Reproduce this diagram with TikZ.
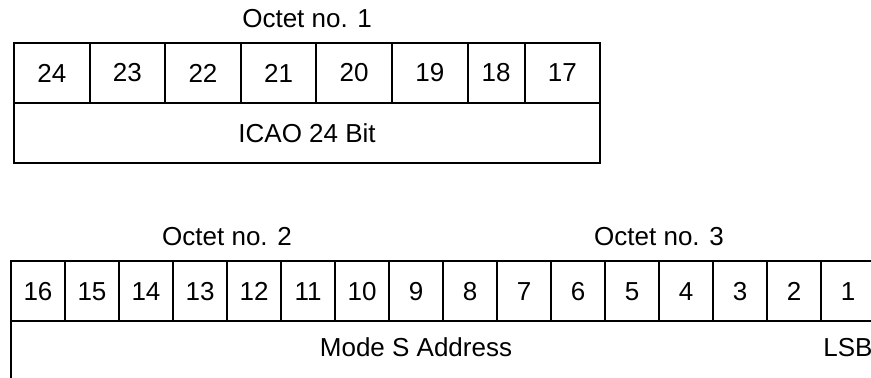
\documentclass[tikz,border=0pt]{standalone}
\usepackage{fontspec}
\setmainfont{Liberation Sans}
\usepackage{tikz}
\usetikzlibrary{positioning, fit}
\tikzstyle{bitcell} = [draw=black, line width=1pt, inner sep=0pt, outer sep=0pt, minimum height=30pt, font=\fontsize{13}{15}\selectfont]
\tikzstyle{caption} = [inner sep=0pt, font=\fontsize{13}{15}\selectfont]

\begin{document}
\begin{tikzpicture}[
    x=0.5pt, y=-0.5pt,
    wide/.style={bitcell, minimum width=37.8pt},
    narrow/.style={bitcell, minimum width=27pt},
    span/.style={inner sep=0pt, outer sep=0pt}]
    \useasboundingbox (0,0) rectangle (871,378);
    \clip (0,0) rectangle (871,378);
    % octet 1
    \node[wide, anchor=north west] (b24) at (14,43) {24};
    \node[wide, right=0pt of b24] (b23) {23};
    \node[wide, right=0pt of b23] (b22) {22};
    \node[wide, right=0pt of b22] (b21) {21};
    \node[wide, right=0pt of b21] (b20) {20};
    \node[wide, right=0pt of b20] (b19) {19};
    \node[bitcell, minimum width=28.5pt, right=0pt of b19] (b18) {18};
    \node[wide, right=0pt of b18] (b17) {17};
    \node[bitcell, minimum width=293.1pt, anchor=north west] (icao) at (b24.south west) {ICAO 24 Bit};
    \node[span, fit=(b24)(icao)] (octet1) {};
    \node[caption, above=7.5pt of octet1] (octet1lbl) {Octet no. 1};
    % octets 2 and 3
    \node[narrow, anchor=north west] (b16) at (11,261.5) {16};
    \node[narrow, right=0pt of b16] (b15) {15};
    \node[narrow, right=0pt of b15] (b14) {14};
    \node[narrow, right=0pt of b14] (b13) {13};
    \node[narrow, right=0pt of b13] (b12) {12};
    \node[narrow, right=0pt of b12] (b11) {11};
    \node[narrow, right=0pt of b11] (b10) {10};
    \node[narrow, right=0pt of b10] (b9) {9};
    \node[narrow, right=0pt of b9] (b8) {8};
    \node[narrow, right=0pt of b8] (b7) {7};
    \node[narrow, right=0pt of b7] (b6) {6};
    \node[narrow, right=0pt of b6] (b5) {5};
    \node[narrow, right=0pt of b5] (b4) {4};
    \node[narrow, right=0pt of b4] (b3) {3};
    \node[narrow, right=0pt of b3] (b2) {2};
    \node[narrow, right=0pt of b2] (b1) {1};
    \node[bitcell, minimum width=432pt, anchor=north west] (addr) at (b16.south west) {};
    \node[span, fit=(b16)(b9)] (octet2) {};
    \node[span, fit=(b8)(b1)] (octet3) {};
    \node[span, fit=(b16)(b2)] (addrspan) {};
    \node[caption, above=7.5pt of octet2] (octet2lbl) {Octet no. 2};
    \node[caption, above=7.5pt of octet3] (octet3lbl) {Octet no. 3};
    \node[caption, below=8pt of addrspan] (addrlbl) {Mode S Address};
    \node[caption, below=8pt of b1] (lsb) {LSB};
\end{tikzpicture}
\end{document}
